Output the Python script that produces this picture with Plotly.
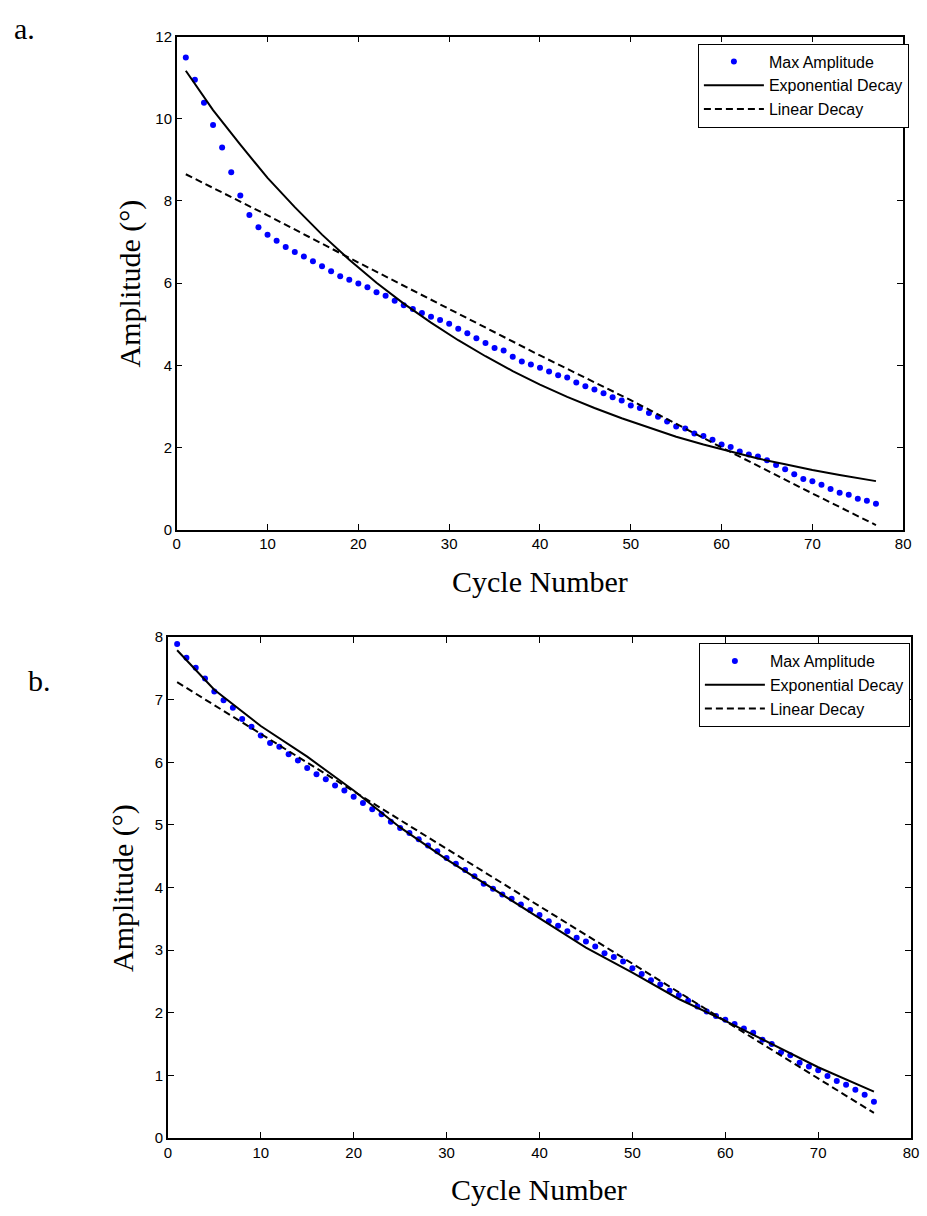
import plotly.graph_objects as go

# ---------------- data: panel a ----------------
cycles_a = list(range(1, 78))
amp_a = [11.49, 10.95, 10.39, 9.85, 9.30, 8.70, 8.13, 7.66, 7.36, 7.18,
         7.03, 6.88, 6.76, 6.65, 6.53, 6.41, 6.29, 6.17, 6.08, 5.99,
         5.90, 5.78, 5.69, 5.57, 5.46, 5.37, 5.27, 5.18, 5.10, 5.01,
         4.89, 4.78, 4.66, 4.54, 4.42, 4.36, 4.21, 4.09, 4.02, 3.94,
         3.85, 3.76, 3.70, 3.58, 3.49, 3.41, 3.32, 3.22, 3.14, 3.02,
         2.96, 2.84, 2.75, 2.63, 2.51, 2.46, 2.34, 2.28, 2.19, 2.07,
         2.01, 1.90, 1.83, 1.78, 1.69, 1.57, 1.47, 1.35, 1.23, 1.18,
         1.09, 0.99, 0.90, 0.85, 0.75, 0.70, 0.63]
exp_x_a = [1, 4, 7, 10, 13, 16, 19, 22, 25, 28, 31, 34, 37, 40, 43, 46, 49,
           52, 55, 58, 61, 64, 67, 70, 73, 76, 77]
exp_y_a = [11.17, 10.21, 9.37, 8.56, 7.85, 7.18, 6.57, 6.01, 5.50, 5.04, 4.61,
           4.22, 3.86, 3.53, 3.23, 2.96, 2.71, 2.48, 2.26, 2.07, 1.90, 1.73,
           1.59, 1.45, 1.33, 1.22, 1.18]
lin_x_a = [1, 10, 20, 30, 40, 50, 60, 70, 77]
lin_y_a = [8.65, 7.65, 6.50, 5.38, 4.24, 3.15, 2.00, 0.88, 0.11]

# ---------------- data: panel b ----------------
cycles_b = list(range(1, 77))
amp_b = [7.89, 7.67, 7.51, 7.34, 7.13, 6.99, 6.87, 6.69, 6.57, 6.43,
         6.31, 6.25, 6.13, 6.03, 5.91, 5.81, 5.73, 5.63, 5.55, 5.45,
         5.35, 5.25, 5.17, 5.05, 4.95, 4.87, 4.77, 4.67, 4.58, 4.47,
         4.38, 4.28, 4.18, 4.06, 3.98, 3.89, 3.82, 3.73, 3.64, 3.56,
         3.46, 3.39, 3.30, 3.20, 3.14, 3.06, 2.95, 2.89, 2.82, 2.71,
         2.62, 2.52, 2.45, 2.35, 2.28, 2.19, 2.10, 2.02, 1.95, 1.89,
         1.82, 1.75, 1.68, 1.57, 1.50, 1.37, 1.32, 1.20, 1.14, 1.08,
         0.99, 0.91, 0.85, 0.77, 0.69, 0.58]
exp_x_b = [1, 5, 10, 15, 20, 25, 30, 35, 40, 45, 50, 55, 60, 65, 70, 76]
exp_y_b = [7.79, 7.16, 6.58, 6.09, 5.55, 4.96, 4.45, 3.98, 3.50, 3.04, 2.64,
           2.22, 1.87, 1.50, 1.13, 0.74]
lin_x_b = [1, 20, 40, 60, 76]
lin_y_b = [7.28, 5.54, 3.70, 1.87, 0.40]

labels = ["Max Amplitude", "Exponential Decay", "Linear Decay"]
x_ticks = [0, 10, 20, 30, 40, 50, 60, 70, 80]

W, H = 927, 1216
BLUE = "#0000FF"

fig = go.Figure()

def add_panel(xa, ya, legend, cyc, amp, ex, ey, lx, ly):
    fig.add_trace(go.Scatter(x=cyc, y=amp, mode="markers", name=labels[0],
                             marker=dict(color=BLUE, size=6),
                             xaxis=xa, yaxis=ya, legend=legend))
    fig.add_trace(go.Scatter(x=ex, y=ey, mode="lines", name=labels[1],
                             line=dict(color="black", width=2),
                             xaxis=xa, yaxis=ya, legend=legend))
    fig.add_trace(go.Scatter(x=lx, y=ly, mode="lines", name=labels[2],
                             line=dict(color="black", width=2, dash="7px,4px"),
                             xaxis=xa, yaxis=ya, legend=legend))

add_panel("x", "y", "legend", cycles_a, amp_a, exp_x_a, exp_y_a, lin_x_a, lin_y_a)
add_panel("x2", "y2", "legend2", cycles_b, amp_b, exp_x_b, exp_y_b, lin_x_b, lin_y_b)

def px_x(p):
    return p / W

def px_y(p):
    return 1 - p / H

tickfont = dict(family="Liberation Sans, Arial, sans-serif", size=15, color="black")
axis_common = dict(showline=True, linecolor="black", linewidth=1.5, mirror="allticks",
                   ticks="inside", ticklen=6, tickwidth=1, tickcolor="black",
                   showgrid=False, zeroline=False, tickfont=tickfont)

# panel a: x 175..911 px, y 28..528 px
fig.update_layout(
    xaxis=dict(domain=[px_x(175), px_x(911)], range=[0, 80], tickvals=x_ticks,
               anchor="y", **axis_common),
    yaxis=dict(domain=[px_y(528), px_y(28)], range=[0, 12], dtick=2,
               anchor="x", **axis_common),
    xaxis2=dict(domain=[px_x(166), px_x(919)], range=[0, 80], tickvals=x_ticks,
                anchor="y2", **axis_common),
    yaxis2=dict(domain=[px_y(1145), px_y(637)], range=[0, 8], dtick=1,
                anchor="x2", **axis_common),
)

legend_common = dict(bgcolor="white", bordercolor="black", borderwidth=1,
                     font=dict(family="Liberation Sans, Arial, sans-serif", size=16,
                               color="black"),
                     xanchor="left", yanchor="top", itemwidth=60,
                     tracegroupgap=0)
fig.update_layout(
    legend=dict(x=px_x(703), y=px_y(35), **legend_common),
    legend2=dict(x=px_x(704), y=px_y(643), **legend_common),
)

serif = dict(family="Liberation Serif, Times New Roman, serif", size=30, color="black")
annos = [
    dict(text="a.", x=px_x(21), y=px_y(20)),
    dict(text="b.", x=px_x(36), y=px_y(681)),
    dict(text="Cycle Number", x=px_x(543), y=px_y(581)),
    dict(text="Cycle Number", x=px_x(542), y=px_y(1197)),
    dict(text="Amplitude (°)", x=px_x(128), y=px_y(278), textangle=-90),
    dict(text="Amplitude (°)", x=px_x(120), y=px_y(891), textangle=-90),
]
for a in annos:
    fig.add_annotation(xref="paper", yref="paper", showarrow=False,
                       xanchor="center", yanchor="middle", font=serif, **a)

fig.update_layout(width=W, height=H, margin=dict(l=0, r=0, t=0, b=0),
                  plot_bgcolor="white", paper_bgcolor="white", showlegend=True)

fig.write_html("out.html", config={"displayModeBar": False},
               post_script="document.body.style.margin='0';")
